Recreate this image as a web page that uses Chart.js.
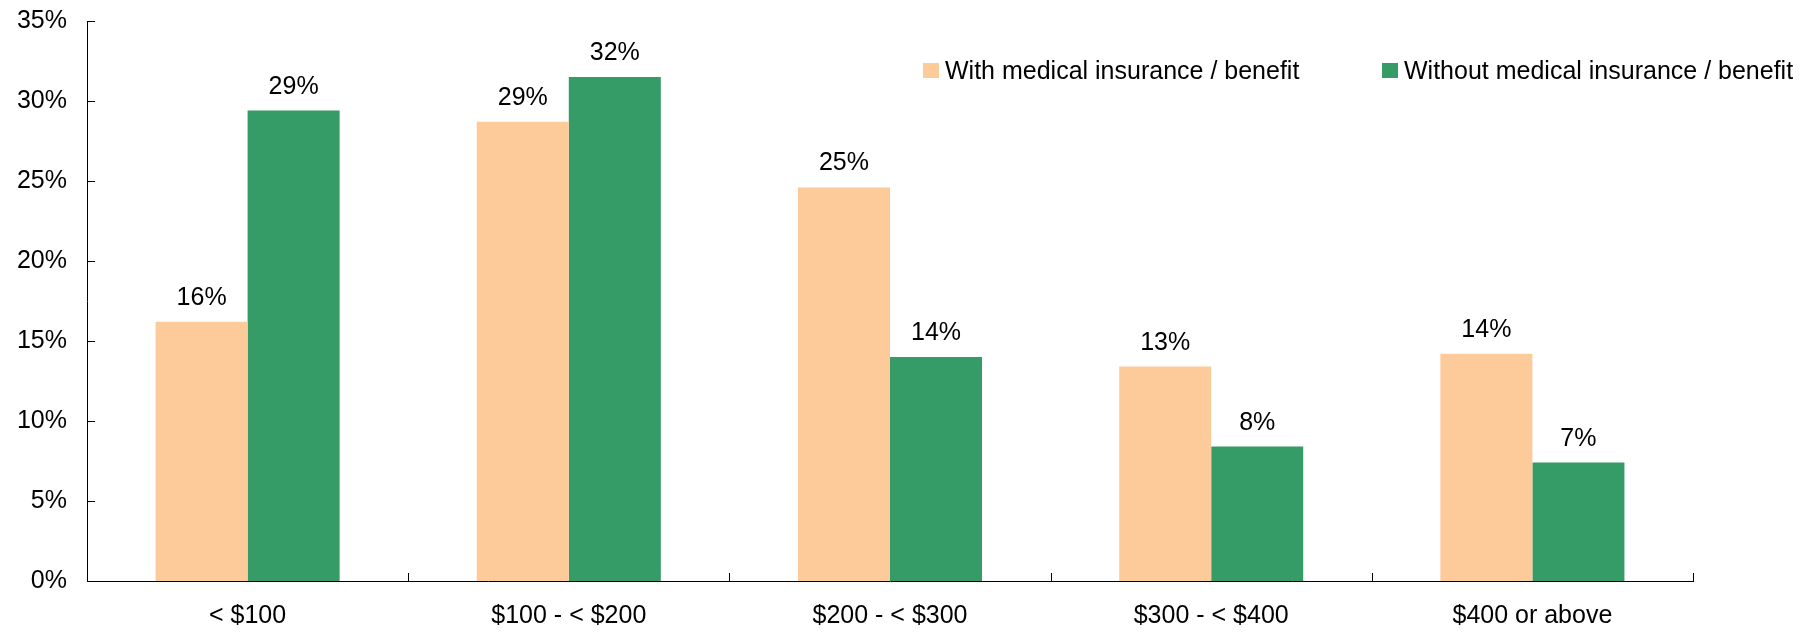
<!DOCTYPE html>
<html>
<head>
<meta charset="utf-8">
<script src="https://cdn.jsdelivr.net/npm/chart.js@4.4.1/dist/chart.umd.min.js"></script>
<style>
    html, body { margin: 0; padding: 0; background: #fff; }
    #wrap { position: relative; width: 1804px; height: 633px; }
    #legend { position: absolute; top: 0; left: 0; font-family: "Liberation Sans", Arial, sans-serif; font-size: 25px; color: #000; }
    .legend-item { position: absolute; top: 55px; height: 30px; line-height: 30px; white-space: nowrap; display: flex; align-items: center; }
    .legend-box { width: 16px; height: 15px; margin-right: 6px; }
</style>
</head>
<body>
<div id="wrap">
    <canvas id="chart" width="1804" height="633"></canvas>
    <div id="legend"></div>
</div>
<script>
const categories = ["< $100", "$100 - < $200", "$200 - < $300", "$300 - < $400", "$400 or above"];
const withInsurance = [16.2, 28.7, 24.6, 13.4, 14.2];
const withoutInsurance = [29.4, 31.5, 14.0, 8.4, 7.4];
const seriesNames = ["With medical insurance / benefit", "Without medical insurance / benefit"];
const seriesColors = ["#FDCB9A", "#359B67"];
const yTicks = [0, 5, 10, 15, 20, 25, 30, 35];

const FONT = "'Liberation Sans', Arial, sans-serif";

// small ticks drawn inside the plot area, like the original
const innerTicks = {
    id: "innerTicks",
    afterDraw(chart) {
        const ctx = chart.ctx;
        const area = chart.chartArea;
        const x = chart.scales.x;
        const y = chart.scales.y;
        ctx.save();
        ctx.strokeStyle = "#000";
        ctx.lineWidth = 1;
        ctx.beginPath();
        yTicks.forEach(v => {
            const py = Math.round(y.getPixelForValue(v)) + 0.5;
            ctx.moveTo(area.left, py);
            ctx.lineTo(area.left + 8, py);
        });
        const step = (area.right - area.left) / categories.length;
        for (let i = 0; i <= categories.length; i++) {
            const px = Math.round(x.getPixelForValue(Math.min(i, categories.length - 1)) + (i === categories.length ? step / 2 : -step / 2)) + 0.5;
            ctx.moveTo(px, area.bottom);
            ctx.lineTo(px, area.bottom - 8);
        }
        ctx.stroke();
        ctx.restore();
    }
};

// percentage labels above each bar
const barLabels = {
    id: "barLabels",
    afterDatasetsDraw(chart) {
        const ctx = chart.ctx;
        ctx.save();
        ctx.font = "25px " + FONT;
        ctx.fillStyle = "#000";
        ctx.textAlign = "center";
        ctx.textBaseline = "alphabetic";
        chart.data.datasets.forEach((ds, di) => {
            chart.getDatasetMeta(di).data.forEach((bar, i) => {
                ctx.fillText(Math.round(ds.data[i]) + "%", bar.x, bar.y - 17);
            });
        });
        ctx.restore();
    }
};

const chart = new Chart(document.getElementById("chart"), {
    type: "bar",
    data: {
        labels: categories,
        datasets: [
            { label: seriesNames[0], data: withInsurance, backgroundColor: seriesColors[0] },
            { label: seriesNames[1], data: withoutInsurance, backgroundColor: seriesColors[1] }
        ]
    },
    options: {
        responsive: false,
        animation: false,
        layout: { padding: { top: 21, right: 111, left: 0, bottom: 0 } },
        categoryPercentage: 0.573,
        barPercentage: 1,
        plugins: {
            legend: { display: false },
            tooltip: { enabled: false }
        },
        scales: {
            x: {
                grid: { display: false, drawTicks: false },
                border: { display: true, color: "#000", width: 1 },
                ticks: { color: "#000", font: { family: FONT, size: 25 }, padding: 20, maxRotation: 0 },
                afterFit(scale) { scale.height = 52; }
            },
            y: {
                min: 0,
                max: 35,
                grid: { display: false, drawTicks: false },
                border: { display: true, color: "#000", width: 1 },
                ticks: {
                    stepSize: 5,
                    color: "#000",
                    font: { family: FONT, size: 25 },
                    padding: 20,
                    callback: v => v + "%"
                },
                afterFit(scale) {
                    scale.width = 87;
                    scale.paddingTop = 0;
                    scale.paddingBottom = 0;
                }
            }
        }
    },
    plugins: [innerTicks, barLabels]
});

// legend as html, built from the chart datasets
const legendLeft = [923, 1382];
const legendEl = document.getElementById("legend");
chart.data.datasets.forEach((ds, i) => {
    const item = document.createElement("div");
    item.className = "legend-item";
    item.style.left = legendLeft[i] + "px";
    item.innerHTML = `<span class="legend-box" style="background:${ds.backgroundColor}"></span><span>${ds.label}</span>`;
    legendEl.appendChild(item);
});
</script>
</body>
</html>
